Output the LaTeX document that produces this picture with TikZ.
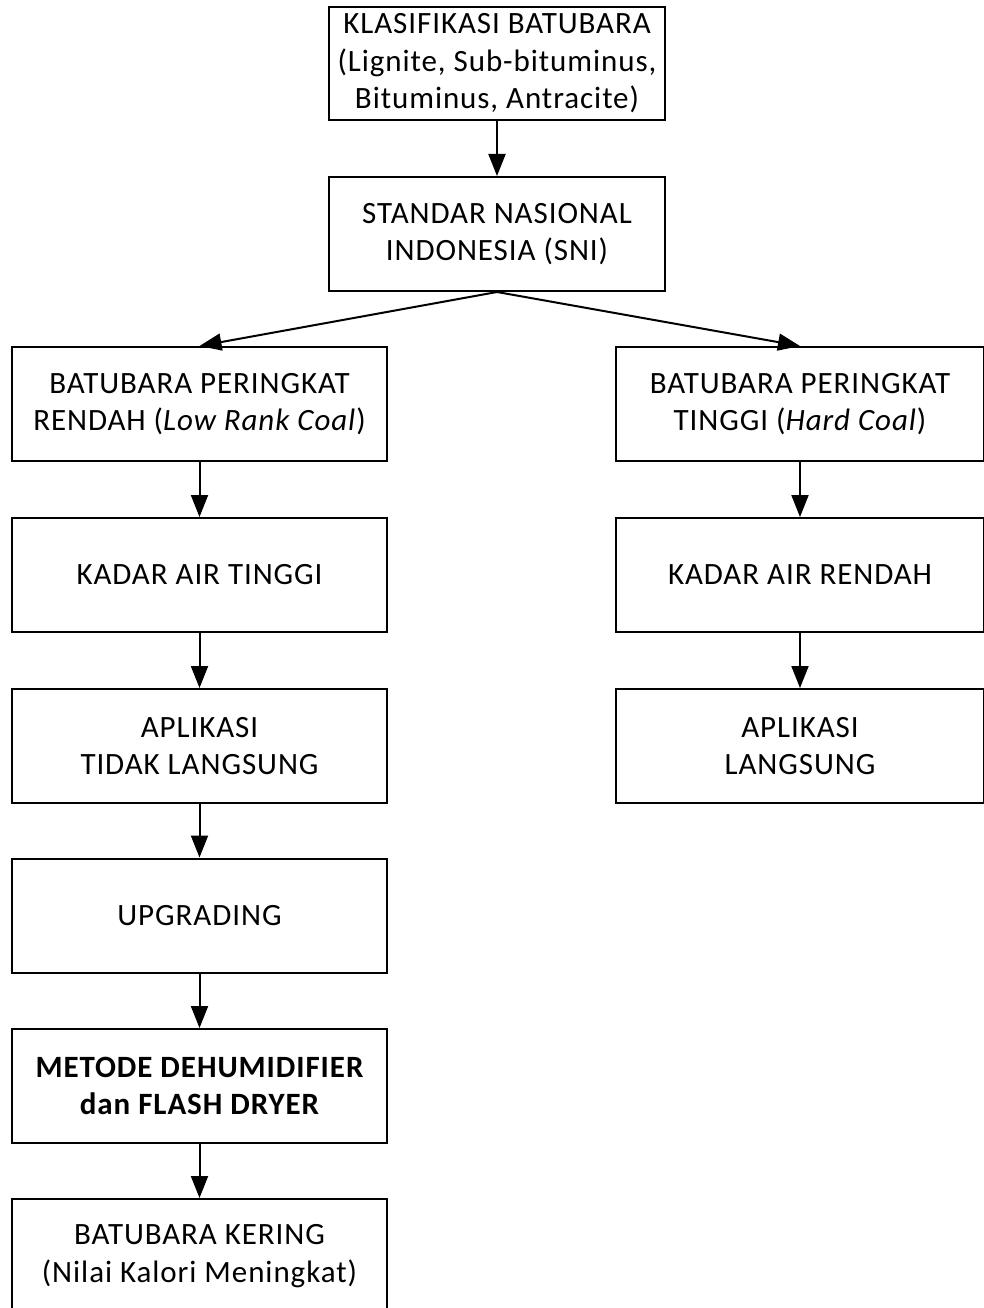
\documentclass[tikz,border=0pt]{standalone}
\usepackage{fontspec}
\setmainfont{Carlito}[LetterSpace=3]
\usetikzlibrary{arrows.meta}
\begin{document}
\begin{tikzpicture}[x=1pt,y=-1pt,
 box/.style={draw, line width=2pt, minimum width=375pt, minimum height=114pt, align=center, font=\fontsize{31}{37.5}\selectfont, inner sep=0pt},
 arr/.style={line width=2pt, -{Triangle[length=22pt,width=17pt]}}]
\useasboundingbox (0,0) rectangle (983,1308);
\node[box, minimum width=336pt, minimum height=113pt] (a) at (497,63.5) {KLASIFIKASI BATUBARA\\(Lignite, Sub-bituminus,\\Bituminus, Antracite)};
\node[box, minimum width=336pt] (b) at (497,234) {STANDAR NASIONAL\\INDONESIA (SNI)};
\node[box] (l1) at (199.5,404) {BATUBARA PERINGKAT\\RENDAH (\textit{Low Rank Coal})};
\node[box] (l2) at (199.5,575) {KADAR AIR TINGGI};
\node[box] (l3) at (199.5,746) {APLIKASI\\TIDAK LANGSUNG};
\node[box] (l4) at (199.5,915.5) {UPGRADING};
\node[box] (l5) at (199.5,1086) {\bfseries METODE DEHUMIDIFIER\\\bfseries dan FLASH DRYER};
\node[box] (l6) at (199.5,1256) {BATUBARA KERING\\(Nilai Kalori Meningkat)};
\node[box, minimum width=368pt] (r1) at (800,404) {BATUBARA PERINGKAT\\TINGGI (\textit{Hard Coal})};
\node[box, minimum width=368pt] (r2) at (800,575) {KADAR AIR RENDAH};
\node[box, minimum width=368pt] (r3) at (800,746) {APLIKASI\\LANGSUNG};
\draw[arr] (a) -- (b);
\draw[arr] (b.south) -- (l1.north);
\draw[arr] (b.south) -- (r1.north);
\draw[arr] (l1) -- (l2);
\draw[arr] (l2) -- (l3);
\draw[arr] (l3) -- (l4);
\draw[arr] (l4) -- (l5);
\draw[arr] (l5) -- (l6);
\draw[arr] (r1) -- (r2);
\draw[arr] (r2) -- (r3);
\end{tikzpicture}
\end{document}
